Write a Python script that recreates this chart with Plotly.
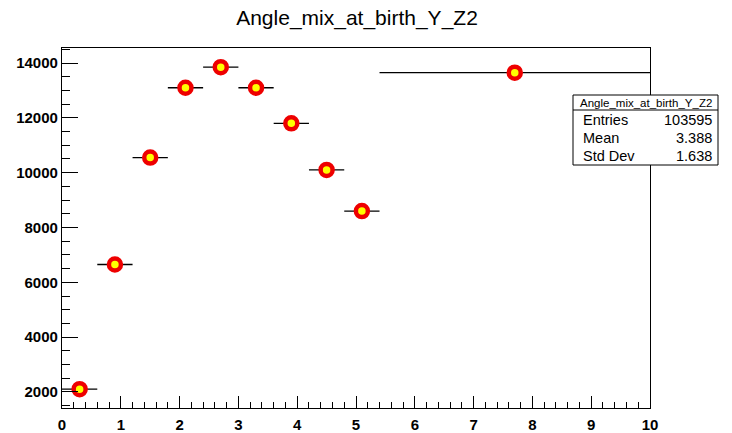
import numpy as np
import plotly.graph_objects as go

# Bin data (variable-width histogram: nine 0.6-wide bins + one wide last bin)
bin_low = [0.0, 0.6, 1.2, 1.8, 2.4, 3.0, 3.6, 4.2, 4.8, 5.4]
bin_high = [0.6, 1.2, 1.8, 2.4, 3.0, 3.6, 4.2, 4.8, 5.4, 10.0]
counts = [2100, 6650, 10550, 13100, 13850, 13100, 11800, 10100, 8600, 13650]
centers = [0.3, 0.9, 1.5, 2.1, 2.7, 3.3, 3.9, 4.5, 5.1, 7.7]

title_text = "Angle_mix_at_birth_Y_Z2"
stats_labels = ["Entries", "Mean", "Std Dev"]
stats_values = ["103595", "3.388", "1.638"]

err_minus = [c - lo for c, lo in zip(centers, bin_low)]
err_plus = [hi - c for c, hi in zip(centers, bin_high)]

fig = go.Figure()
fig.add_trace(go.Scatter(
    x=centers, y=counts, mode="markers",
    marker=dict(symbol="circle", size=12, color="#ffff00",
                line=dict(color="#ee0000", width=4.5)),
    error_x=dict(type="data", symmetric=False, array=err_plus, arrayminus=err_minus,
                 color="black", thickness=1.3, width=0),
    showlegend=False,
))

tickfont = dict(family="Liberation Sans", size=15, color="black", weight="bold")

fig.update_layout(
    width=732, height=433,
    margin=dict(l=62, r=82, t=48, b=25),
    paper_bgcolor="white", plot_bgcolor="white",
    title=dict(text=title_text, x=357 / 732, xanchor="center", y=1 - 18 / 433,
               yanchor="middle", yref="container",
               font=dict(family="Liberation Sans", size=21, color="black")),
    xaxis=dict(range=[0, 10], dtick=1, tick0=0, ticks="inside", ticklen=12,
               tickcolor="black", tickwidth=1, showgrid=False, zeroline=False,
               showline=True, mirror=True, linecolor="black", linewidth=1.3,
               tickfont=tickfont, tickformat="d", ticklabelstandoff=3,
               automargin=False,
               minor=dict(dtick=0.2, ticks="inside", ticklen=6, tickcolor="black",
                          showgrid=False)),
    yaxis=dict(range=[1413, 14550], dtick=2000, tick0=0, ticks="inside", ticklen=16,
               tickcolor="black", tickwidth=1, showgrid=False, zeroline=False,
               showline=True, mirror=True, linecolor="black", linewidth=1.3,
               tickfont=tickfont, tickformat="d", automargin=False,
               minor=dict(dtick=500, ticks="inside", ticklen=8, tickcolor="black",
                          showgrid=False)),
)

# Stats box (paper coordinates derived from pixel layout)
W, H = 732 - 62 - 82, 433 - 48 - 25
def px(x):
    return (x - 62) / W
def py(y):
    return (408 - y) / H

x0, x1, y0, y1, yh = px(573), px(718), py(95), py(165), py(110)
fig.add_shape(type="rect", xref="paper", yref="paper", x0=x0, x1=x1, y0=y1, y1=y0,
              line=dict(color="black", width=1), fillcolor="white", layer="above")
fig.add_shape(type="line", xref="paper", yref="paper", x0=x0, x1=x1, y0=yh, y1=yh,
              line=dict(color="black", width=1), layer="above")
fig.add_annotation(text=title_text, xref="paper", yref="paper", x=(x0 + x1) / 2,
                   y=py(102.5), xanchor="center", yanchor="middle", showarrow=False,
                   font=dict(family="Liberation Sans", size=11.5, color="black"))
row_y = [120, 138, 156]
for lab, val, ry in zip(stats_labels, stats_values, row_y):
    fig.add_annotation(text=lab, xref="paper", yref="paper", x=px(581), y=py(ry),
                       xanchor="left", yanchor="middle", showarrow=False,
                       font=dict(family="Liberation Sans", size=14.5, color="black"))
    fig.add_annotation(text=val, xref="paper", yref="paper", x=px(714), y=py(ry),
                       xanchor="right", yanchor="middle", showarrow=False,
                       font=dict(family="Liberation Sans", size=14.5, color="black"))

fig.write_html("out.html")
